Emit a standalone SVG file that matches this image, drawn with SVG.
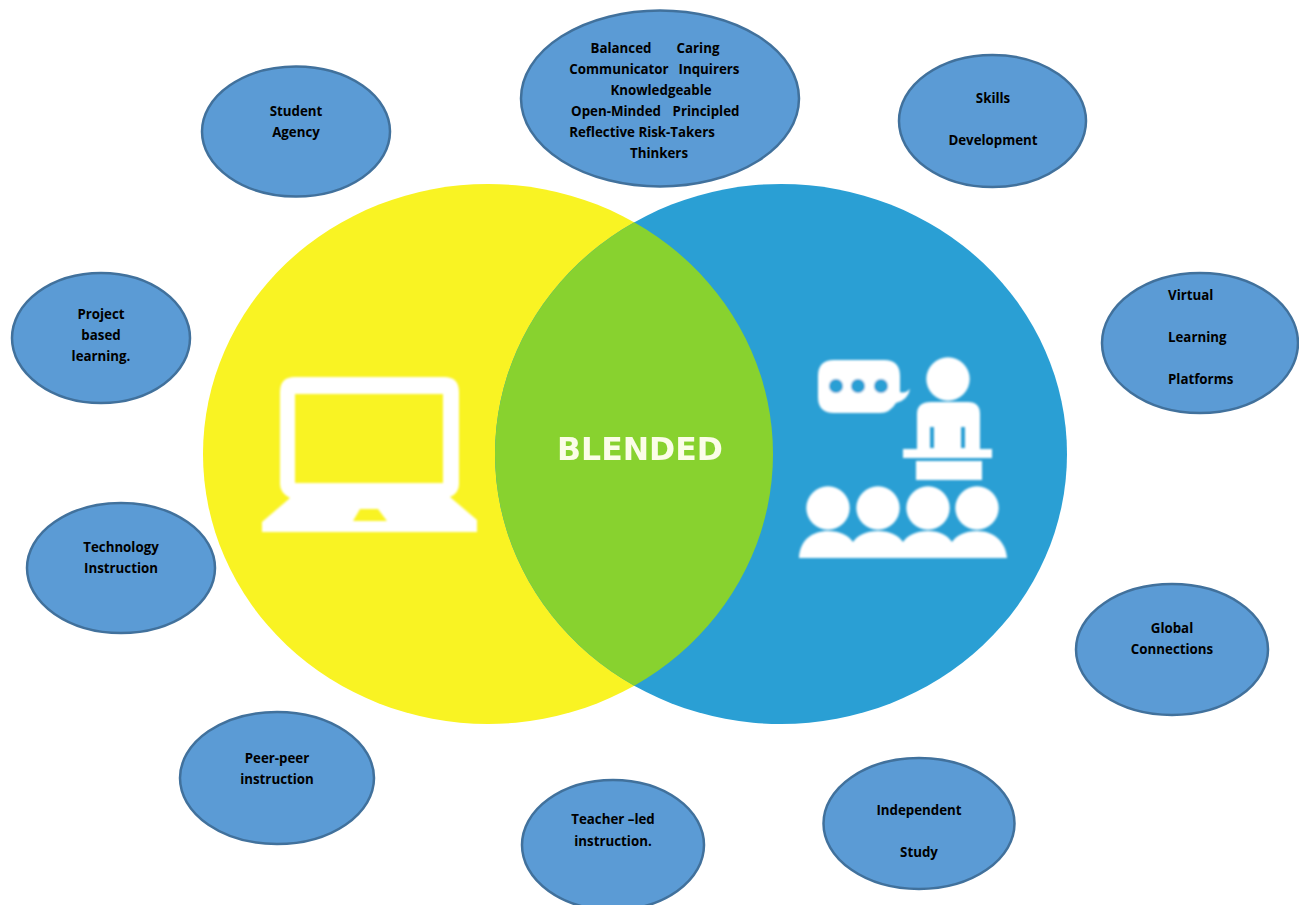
<svg xmlns="http://www.w3.org/2000/svg" width="1299" height="905" viewBox="0 0 1299 905">
<style>
.n{fill:#5b9bd5;stroke:#41719c;stroke-width:2.5}
.t{font-family:"Open Sans","Liberation Sans",sans-serif;font-weight:700;font-size:13.3px;fill:#000;text-anchor:middle}
.s{text-anchor:start}
.w{fill:#fff}
</style>
<defs>
<clipPath id="yc"><ellipse cx="488" cy="454" rx="285" ry="270"/></clipPath>
<filter id="soft" x="-5%" y="-5%" width="110%" height="110%"><feGaussianBlur stdDeviation="0.8"/></filter>
<filter id="softer" x="-5%" y="-10%" width="110%" height="120%"><feGaussianBlur stdDeviation="0.35"/></filter>
</defs>
<rect width="1299" height="905" fill="#fff"/>
<g id="venn">
<ellipse cx="488" cy="454" rx="285" ry="270" fill="#f9f323"/>
<ellipse cx="781" cy="454" rx="286" ry="270" fill="#2a9fd4"/>
<ellipse cx="781" cy="454" rx="286" ry="270" fill="#88d22f" clip-path="url(#yc)"/>
<text x="640" y="460" font-family="'DejaVu Sans',sans-serif" font-weight="700" font-size="31.5" fill="#fbfde8" text-anchor="middle" filter="url(#softer)">BLENDED</text>
</g>
<g id="laptop" filter="url(#soft)">
<path class="w" fill-rule="evenodd" d="M295 377H444Q459 377 459 392V484Q459 493 450 497L477 520V532H262V522L290 498Q280 493 280 484V392Q280 377 295 377ZM295 394V483H443V394ZM360 509L353 521H387L378 509Z"/>
</g>
<g id="classroom" filter="url(#soft)">
<path class="w" d="M834 360H884Q900 360 900 376V392Q905 394 910 389Q908 400 896 403Q890 413 880 413H834Q818 413 818 397V376Q818 360 834 360Z"/>
<circle cx="836" cy="386" r="7" fill="#2a9fd4"/><circle cx="858" cy="386" r="7" fill="#2a9fd4"/><circle cx="881" cy="386" r="7" fill="#2a9fd4"/>
<circle cx="948" cy="379" r="21.7" class="w"/>
<path class="w" fill-rule="evenodd" d="M931 402H968Q980 402 980 414V449H992V458H903V449H917V414Q917 402 931 402ZM930 427V448H934V427ZM961 427V448H965V427Z"/>
<rect class="w" x="916" y="461" width="66" height="19"/>
<circle cx="828" cy="508" r="21.7" class="w"/><circle cx="878" cy="508" r="21.7" class="w"/><circle cx="928" cy="508" r="21.7" class="w"/><circle cx="977" cy="508" r="21.7" class="w"/>
<path class="w" d="M799 558C800 540 812 531 828 531C840 531 848 535 853 542C858 535 866 531 878 531C890 531 898 535 903 542C908 535 916 531 928 531C940 531 947 535 952 542C957 535 965 531 977 531C994 531 1006 542 1007 558Z"/>
</g>
<g id="connectors"></g>
<g id="student-agency"><ellipse class="n" cx="296" cy="131.5" rx="94" ry="65"/><text class="t"><tspan x="296" y="116">Student</tspan><tspan x="296" y="137">Agency</tspan></text></g>
<g id="attributes"><ellipse class="n" cx="660" cy="98.5" rx="139" ry="88"/>
<text class="t"><tspan x="621" y="53">Balanced</tspan><tspan x="698" y="53">Caring</tspan><tspan x="619" y="74">Communicator</tspan><tspan x="709" y="74">Inquirers</tspan><tspan x="661" y="95">Knowledgeable</tspan><tspan x="616" y="116">Open-Minded</tspan><tspan x="706" y="116">Principled</tspan><tspan x="642" y="137">Reflective Risk-Takers</tspan><tspan x="659" y="158">Thinkers</tspan></text></g>
<g id="skills"><ellipse class="n" cx="992.5" cy="121" rx="93.5" ry="66"/><text class="t"><tspan x="993" y="103">Skills</tspan><tspan x="993" y="145">Development</tspan></text></g>
<g id="virtual"><ellipse class="n" cx="1200" cy="343" rx="98" ry="70"/><text class="t s"><tspan x="1168" y="300">Virtual</tspan><tspan x="1168" y="342">Learning</tspan><tspan x="1168" y="384">Platforms</tspan></text></g>
<g id="project"><ellipse class="n" cx="101" cy="338" rx="89" ry="65"/><text class="t"><tspan x="101" y="319">Project</tspan><tspan x="101" y="340">based</tspan><tspan x="101" y="361">learning.</tspan></text></g>
<g id="technology"><ellipse class="n" cx="121" cy="568" rx="94" ry="65"/><text class="t"><tspan x="121" y="552">Technology</tspan><tspan x="121" y="573">Instruction</tspan></text></g>
<g id="global"><ellipse class="n" cx="1172" cy="649.5" rx="96" ry="65.5"/><text class="t"><tspan x="1172" y="633">Global</tspan><tspan x="1172" y="654">Connections</tspan></text></g>
<g id="peer"><ellipse class="n" cx="277" cy="778" rx="97" ry="66"/><text class="t"><tspan x="277" y="763">Peer-peer</tspan><tspan x="277" y="784">instruction</tspan></text></g>
<g id="teacher"><ellipse class="n" cx="613" cy="845" rx="91" ry="65"/><text class="t"><tspan x="613" y="824">Teacher –led</tspan><tspan x="613" y="846">instruction.</tspan></text></g>
<g id="independent"><ellipse class="n" cx="919" cy="823.5" rx="95.5" ry="65.5"/><text class="t"><tspan x="919" y="815">Independent</tspan><tspan x="919" y="857">Study</tspan></text></g>
</svg>
